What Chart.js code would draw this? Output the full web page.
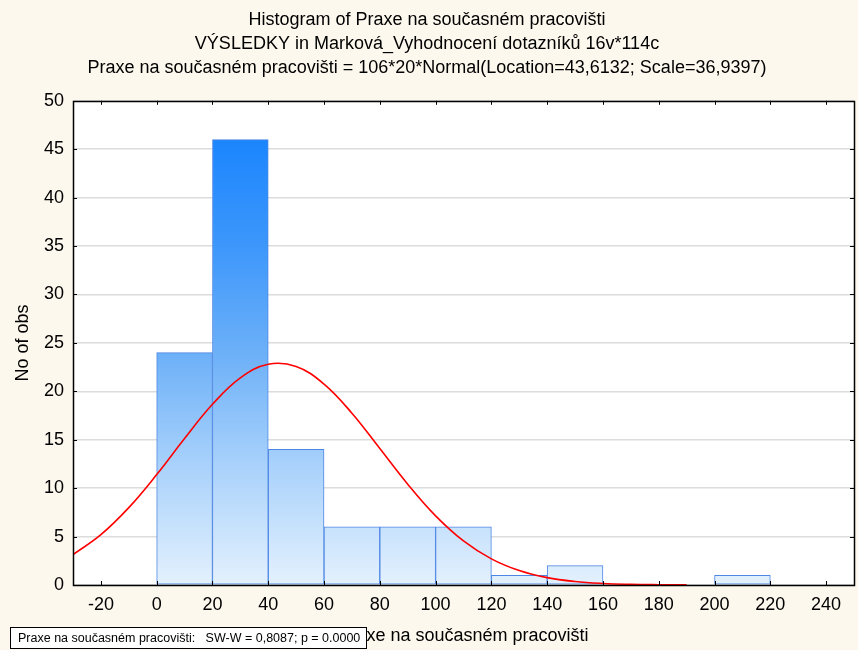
<!DOCTYPE html>
<html>
<head>
<meta charset="utf-8">
<script src="https://cdn.jsdelivr.net/npm/chart.js@4.4.0/dist/chart.umd.min.js"></script>
<style>
  body { margin: 0; background: #fdf8ee; }
  #wrap { width: 858px; height: 650px; }
</style>
</head>
<body>
<div id="wrap"><canvas id="histogram" width="858" height="650"></canvas></div>
<script>
'use strict';

const titleLines = [
  'Histogram of Praxe na současném pracovišti',
  'VÝSLEDKY in Marková_Vyhodnocení dotazníků 16v*114c',
  'Praxe na současném pracovišti = 106*20*Normal(Location=43,6132; Scale=36,9397)',
];
const xAxisTitle = 'Praxe na současném pracovišti';
const yAxisTitle = 'No of obs';
const swTestLabel = 'Praxe na současném pracovišti:   SW-W = 0,8087; p = 0.0000';

// histogram bins (centre of each 20 wide class) and counts
const binCenters = [10, 30, 50, 70, 90, 110, 130, 150, 170, 190, 210, 230];
const binCounts = [24, 46, 14, 6, 6, 6, 1, 2, 0, 0, 1, 0];

// fitted normal curve
const curveX = [-30, -20, -10, 0, 10, 20, 30, 40, 50, 60, 70, 80, 90, 100, 110, 120, 130, 140, 150, 160, 170, 180, 190];
const curveY = [3.14, 5.2, 7.99, 11.4, 15.13, 18.66, 21.39, 22.79, 22.56, 20.75, 17.74, 14.09, 10.41, 7.14, 4.55, 2.7, 1.49, 0.76, 0.36, 0.16, 0.07, 0.03, 0.01];

const xTickValues = [-20, 0, 20, 40, 60, 80, 100, 120, 140, 160, 180, 200, 220, 240];
const yTickValues = [0, 5, 10, 15, 20, 25, 30, 35, 40, 45, 50];

const fontFamily = "'Liberation Sans', Arial, Helvetica, sans-serif";

function barGradient(context) {
  const area = context.chart.chartArea;
  if (!area) {
    return '#7fbaf5';
  }
  const gradient = context.chart.ctx.createLinearGradient(0, area.top, 0, area.bottom);
  gradient.addColorStop(0, '#0f7fff');
  gradient.addColorStop(0.3, '#3d97fb');
  gradient.addColorStop(0.52, '#6cb0f8');
  gradient.addColorStop(0.75, '#a8d1fb');
  gradient.addColorStop(1, '#e4f1fd');
  return gradient;
}

const plotFrame = {
  id: 'plotFrame',
  beforeDraw(chart) {
    const { ctx, chartArea } = chart;
    ctx.save();
    ctx.fillStyle = '#fdf8ee';
    ctx.fillRect(0, 0, chart.width, chart.height);
    ctx.fillStyle = '#ffffff';
    ctx.fillRect(chartArea.left, chartArea.top, chartArea.right - chartArea.left, chartArea.bottom - chartArea.top);
    ctx.restore();
  },
  afterDraw(chart) {
    const { ctx, chartArea, scales } = chart;
    const tick = 4;
    ctx.save();
    ctx.strokeStyle = '#000000';
    ctx.lineWidth = 1;
    ctx.beginPath();
    xTickValues.forEach((v) => {
      const px = Math.round(scales.x.getPixelForValue(v)) + 0.5;
      ctx.moveTo(px, chartArea.bottom);
      ctx.lineTo(px, chartArea.bottom - tick);
      ctx.moveTo(px, chartArea.top);
      ctx.lineTo(px, chartArea.top + tick);
    });
    yTickValues.forEach((v) => {
      const py = Math.round(scales.y.getPixelForValue(v)) + 0.5;
      ctx.moveTo(chartArea.left, py);
      ctx.lineTo(chartArea.left + tick, py);
      ctx.moveTo(chartArea.right, py);
      ctx.lineTo(chartArea.right - tick, py);
    });
    ctx.stroke();
    ctx.lineWidth = 1.5;
    ctx.strokeRect(Math.round(chartArea.left) + 0.5, Math.round(chartArea.top) + 0.5,
      Math.round(chartArea.right - chartArea.left), Math.round(chartArea.bottom - chartArea.top));

    // Shapiro-Wilk note in the bottom left corner
    ctx.fillStyle = '#ffffff';
    ctx.fillRect(10.5, 627.5, 356, 21);
    ctx.lineWidth = 1;
    ctx.strokeRect(10.5, 627.5, 356, 21);
    ctx.fillStyle = '#000000';
    ctx.font = '12.5px ' + fontFamily;
    ctx.textBaseline = 'middle';
    ctx.fillText(swTestLabel, 18, 638.5);
    ctx.restore();
  }
};

const chartContext = document.querySelector('#histogram').getContext('2d');

const chartConfig = {
  data: {
    datasets: [
      {
        type: 'line',
        label: 'Normal',
        data: curveX.map((x, i) => ({ x: x, y: curveY[i] })),
        borderColor: '#ff0000',
        borderWidth: 1.6,
        pointRadius: 0,
        tension: 0.4,
        fill: false,
        order: 0,
      },
      {
        type: 'bar',
        label: 'Praxe',
        data: binCenters.map((x, i) => ({ x: x, y: binCounts[i] })),
        backgroundColor: barGradient,
        borderColor: '#4d86e3',
        borderWidth: (ctx) => (binCounts[ctx.dataIndex] === 0 ? 0 : 1),
        borderSkipped: false,
        barPercentage: 1,
        categoryPercentage: 1,
        order: 1,
      }
    ]
  },
  options: {
    responsive: false,
    animation: false,
    layout: {
      padding: { top: 0, left: 0, right: 4, bottom: 0 }
    },
    plugins: {
      legend: { display: false },
      tooltip: { enabled: false },
      title: {
        display: true,
        text: titleLines,
        color: '#000000',
        font: { family: fontFamily, size: 18, weight: 'normal', lineHeight: 1.33 },
        padding: { top: 8, bottom: 21 },
      }
    },
    scales: {
      x: {
        type: 'linear',
        min: -30,
        max: 250,
        offset: false,
        afterBuildTicks: (scale) => {
          scale.ticks = xTickValues.map((v) => ({ value: v }));
        },
        afterFit: (scale) => {
          scale.height = 65;
        },
        grid: { display: false, drawTicks: false },
        border: { display: false },
        ticks: {
          color: '#000000',
          padding: 9,
          maxRotation: 0,
          autoSkip: false,
          font: { family: fontFamily, size: 18 },
        },
        title: {
          display: true,
          text: xAxisTitle,
          color: '#000000',
          font: { family: fontFamily, size: 18 },
          padding: { top: 0, bottom: 3 },
        }
      },
      y: {
        type: 'linear',
        min: 0,
        max: 50,
        afterBuildTicks: (scale) => {
          scale.ticks = yTickValues.map((v) => ({ value: v }));
        },
        afterFit: (scale) => {
          scale.width = 73;
        },
        grid: { color: '#dcdcdc', lineWidth: 1.5, drawTicks: false },
        border: { display: false },
        ticks: {
          color: '#000000',
          padding: 9,
          font: { family: fontFamily, size: 18 },
        },
        title: {
          display: true,
          text: yAxisTitle,
          color: '#000000',
          font: { family: fontFamily, size: 18 },
          padding: { top: 12, bottom: 0 },
        }
      }
    }
  },
  plugins: [plotFrame],
};

const chart = new Chart(chartContext, chartConfig);
</script>
</body>
</html>
